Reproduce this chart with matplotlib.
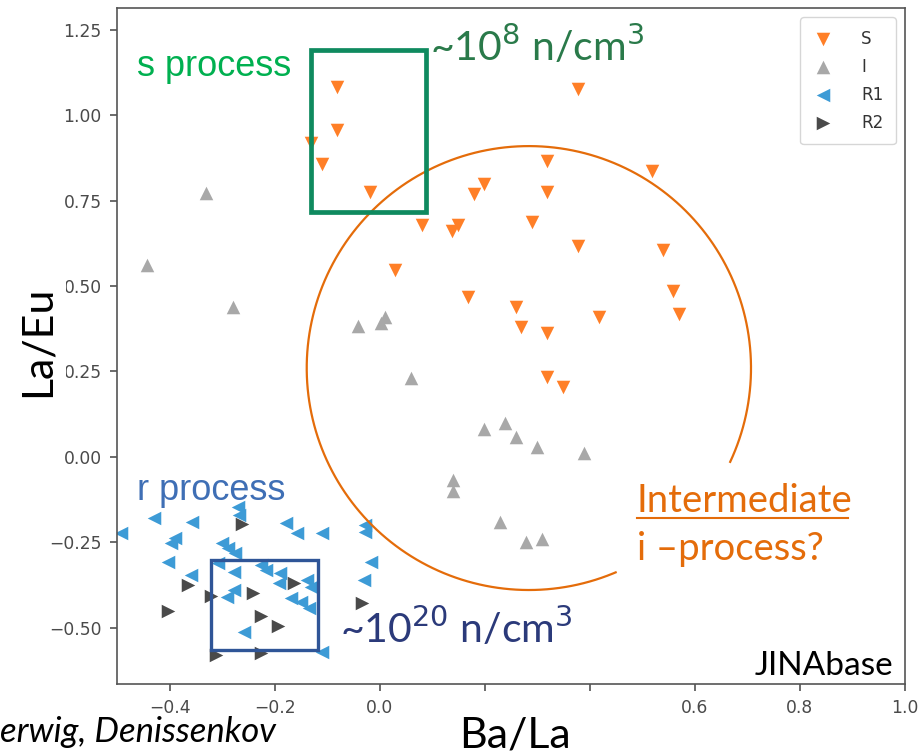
import numpy as np
import matplotlib
matplotlib.use('Agg')
import matplotlib.pyplot as plt
from matplotlib.patches import Rectangle

# star groups
s_x = [-0.082, -0.082, -0.130, -0.110, -0.019, 0.377, 0.318, 0.518, 0.198, 0.179,
       0.318, 0.080, 0.150, 0.137, 0.290, 0.377, 0.539, 0.029, 0.168, 0.259,
       0.269, 0.318, 0.417, 0.558, 0.570, 0.318, 0.349]
s_y = [1.082, 0.956, 0.918, 0.857, 0.775, 1.076, 0.865, 0.836, 0.798, 0.769,
       0.775, 0.678, 0.678, 0.661, 0.687, 0.617, 0.605, 0.547, 0.468, 0.439,
       0.380, 0.363, 0.409, 0.485, 0.418, 0.234, 0.205]

i_x = [-0.442, -0.331, -0.280, -0.042, 0.002, 0.010, 0.059, 0.198, 0.238, 0.259,
       0.299, 0.389, 0.139, 0.139, 0.230, 0.278, 0.309]
i_y = [0.561, 0.772, 0.439, 0.383, 0.392, 0.409, 0.231, 0.082, 0.099, 0.058,
       0.029, 0.012, -0.067, -0.099, -0.190, -0.249, -0.240]

r1_x = [-0.493, -0.430, -0.358, -0.269, -0.267, -0.179, -0.158, -0.110, -0.027, -0.027,
        -0.389, -0.398, -0.301, -0.288, -0.276, -0.402, -0.360, -0.307, -0.278, -0.291,
        -0.278, -0.225, -0.217, -0.189, -0.192, -0.139, -0.131, -0.168, -0.149, -0.135,
        -0.017, -0.030, -0.259, -0.110]
r1_y = [-0.222, -0.178, -0.190, -0.146, -0.170, -0.193, -0.222, -0.222, -0.199, -0.219,
        -0.237, -0.251, -0.251, -0.266, -0.281, -0.307, -0.345, -0.310, -0.336, -0.409,
        -0.389, -0.316, -0.330, -0.339, -0.368, -0.360, -0.380, -0.412, -0.424, -0.442,
        -0.307, -0.360, -0.512, -0.570]

r2_x = [-0.263, -0.364, -0.402, -0.322, -0.242, -0.164, -0.225, -0.194, -0.312, -0.225, -0.034]
r2_y = [-0.196, -0.374, -0.450, -0.406, -0.398, -0.368, -0.465, -0.494, -0.579, -0.573, -0.427]

xticks = [-0.4, -0.2, 0.0, 0.2, 0.4, 0.6, 0.8, 1.0]
xticklabels = ['\u22120.4', '\u22120.2', '0.0', '', '', '0.6', '0.8', '1.0']
yticks = [-0.5, -0.25, 0.0, 0.25, 0.5, 0.75, 1.0, 1.25]

W, H = 919, 753
fig = plt.figure(figsize=(W / 100, H / 100), dpi=100)
ax = fig.add_axes([117 / W, 1 - 684 / H, (905 - 117) / W, (684 - 8) / H])

ms = 95
ax.scatter(s_x, s_y, marker='v', s=ms, color='#ff7f27', linewidths=0, label='S')
ax.scatter(i_x, i_y, marker='^', s=ms, color='#a8a8a8', linewidths=0, label='I')
ax.scatter(r1_x, r1_y, marker='<', s=ms, color='#3d9bd6', linewidths=0, label='R1')
ax.scatter(r2_x, r2_y, marker='>', s=ms, color='#4a4a4a', linewidths=0, label='R2')

ax.set_xlim(-0.5, 1.0)
ax.set_ylim(-0.664, 1.313)
ax.set_xticks(xticks)
ax.set_xticklabels(xticklabels)
ax.set_yticks(yticks)
ax.tick_params(labelsize=12.3, labelcolor='#4a4a4a', color='#444444', length=5, width=1.1)
ax.tick_params(axis='y', pad=6)
ax.tick_params(axis='x', pad=6)
for sp in ax.spines.values():
    sp.set_color('#555555')
    sp.set_linewidth(1.2)

leg = ax.legend(loc='upper right', fontsize=12, labelcolor='#333333', borderpad=0.75,
                labelspacing=0.6, handlelength=1.2, handletextpad=1.7, borderaxespad=0.55)

# slide annotations on top of the plot
ax.add_patch(Rectangle((-0.131, 0.715), 0.219, 0.475, fill=False, ec='#0f8a5f', lw=3.4, zorder=5))
ax.add_patch(Rectangle((-0.322, -0.566), 0.204, 0.266, fill=False, ec='#2f5597', lw=2.4, zorder=5))

# orange circle (round in pixels), open near the label
cx, cy, rad = 0.284, 0.260, 222
t = np.radians(np.linspace(-25, 293, 400))
ax.plot(cx + rad / 525 * np.cos(t), cy + rad / 342 * np.sin(t), color='#e46c0a', lw=1.6,
        clip_on=False, zorder=4)

font = 'Lato'
fig.text(137 / W, 1 - 66 / H, 's process', fontsize=26, color='#00b050', family='Liberation Sans',
         va='center')
fig.text(137 / W, 1 - 490 / H, 'r process', fontsize=26, color='#3f6fb5', family='Liberation Sans',
         va='center')
fig.text(430 / W, 1 - 46 / H, '~10$^{8}$ n/cm$^{3}$', fontsize=29.5, color='#2a7a4a', family=font,
         va='center')
fig.text(340 / W, 1 - 628 / H, '~10$^{20}$ n/cm$^{3}$', fontsize=29.5, color='#2b3a7a', family=font,
         va='center')
fig.text(637 / W, 1 - 512 / H, 'Intermediate', fontsize=27.5, color='#e46c0a', family=font,
         va='baseline')
fig.add_artist(plt.Line2D([637 / W, 848 / W], [1 - 518 / H, 1 - 518 / H], color='#e46c0a', lw=1.5))
fig.text(637 / W, 1 - 560 / H, 'i \u2013process?', fontsize=27.5, color='#e46c0a', family=font,
         va='baseline')
fig.text(893 / W, 1 - 675 / H, 'JINAbase', fontsize=24, color='black', family=font,
         va='baseline', ha='right')

# white slide box behind the y label hides part of two tick labels
fig.add_artist(Rectangle((0, 1 - 394 / H), 66 / W, 118 / H, transform=fig.transFigure,
                         fc='white', ec='none', zorder=3))
fig.text(38 / W, 1 - 341 / H, 'La/Eu', fontsize=31, family=font, rotation=90,
         ha='center', va='center', zorder=4)
fig.text(515 / W, 1 - 735 / H, 'Ba/La', fontsize=31, family=font, ha='center', va='center')
fig.text(0, 1 - 742 / H, 'erwig, Denissenkov', fontsize=25, family=font, style='italic',
         va='baseline')

fig.savefig('out.png', dpi=100)
